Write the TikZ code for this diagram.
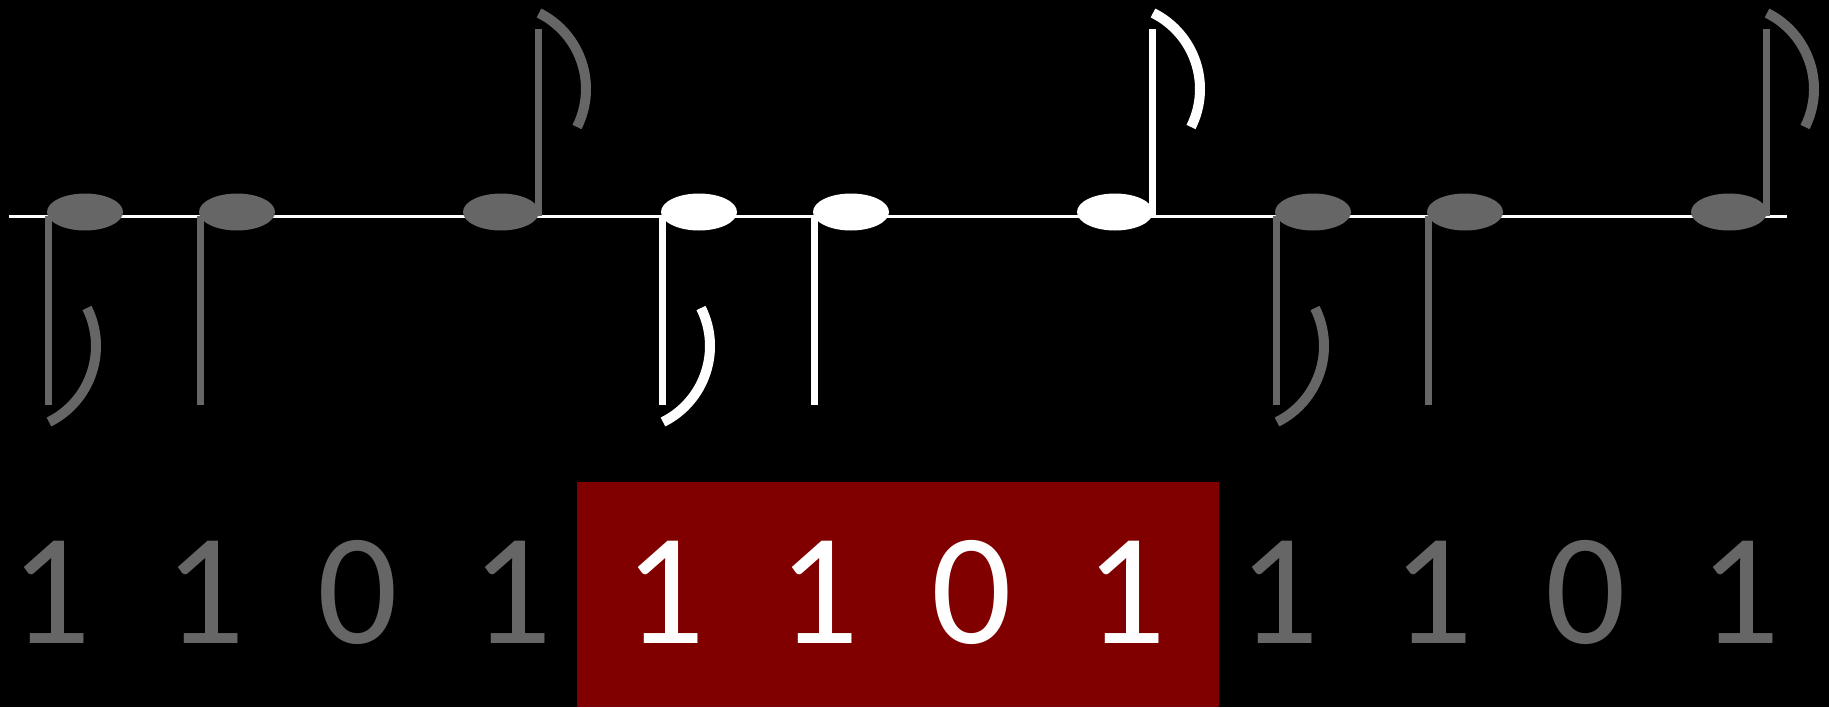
\documentclass[tikz,border=0pt]{standalone}
\usepackage{fontspec}
\newfontfamily\digitfont{Carlito}
\usetikzlibrary{shapes.geometric}
\definecolor{notegray}{HTML}{666666}
\definecolor{windowred}{HTML}{800000}

\begin{document}
\begin{tikzpicture}[
    x=1pt, y=-1pt,
    staffline/.style={draw=white, line width=3pt},
    notehead/.style={ellipse, minimum width=76pt, minimum height=37pt, inner sep=0pt},
    notestem/.style={line width=7pt},
    noteflag/.style={line width=10pt},
    bit/.style={font=\digitfont\fontsize{159}{159}\selectfont, inner sep=0pt, anchor=base},
    windowbox/.style={rectangle, fill=windowred, inner sep=0pt, anchor=north west,
                      minimum width=642pt, minimum height=225pt}
  ]
  \useasboundingbox[fill=black] (0,0) rectangle (1829,707);

  % staff line
  \coordinate (staffL) at (9,216);
  \coordinate (staffR) at (1787,216);
  \draw[staffline] (staffL) -- (staffR);

  % three repeats of the motif: eighth, quarter, eighth
  \foreach \g/\col in {0/notegray,1/white,2/notegray}{
    \pgfmathsetmacro{\cx}{85+614*\g}
    \coordinate (a\g) at (\cx,212);
    \coordinate (b\g) at (\cx+152,212);
    \coordinate (c\g) at (\cx+416,212);
    % stems
    \draw[notestem,draw=\col] (a\g) ++(-37,4) -- ++(0,189);
    \draw[notestem,draw=\col] (b\g) ++(-37,4) -- ++(0,189);
    \draw[notestem,draw=\col] (c\g) ++(37,4) -- ++(0,-187);
    % flags
    \draw[noteflag,draw=\col] (\cx-36,422) .. controls (\cx+6,401) and (\cx+23,350) .. (\cx+2,308);
    \draw[noteflag,draw=\col] (\cx+454,13) .. controls (\cx+496,34) and (\cx+513,85) .. (\cx+492,127);
    % heads
    \node[notehead, fill=\col] (ha\g) at (a\g) {};
    \node[notehead, fill=\col] (hb\g) at (b\g) {};
    \node[notehead, fill=\col] (hc\g) at (c\g) {};
  }

  % highlighted window
  \node[windowbox] (window) at (577,482) {};

  % bit pattern
  \foreach \i/\d in {0/1,1/1,2/0,3/1,4/1,5/1,6/0,7/1,8/1,9/1,10/0,11/1}{
    \ifnum\i>3 \ifnum\i<8 \def\tc{white}\else\def\tc{notegray}\fi\else\def\tc{notegray}\fi
    \node[bit, text=\tc] (d\i) at (51+153.5*\i,643) {\d};
  }
\end{tikzpicture}
\end{document}
